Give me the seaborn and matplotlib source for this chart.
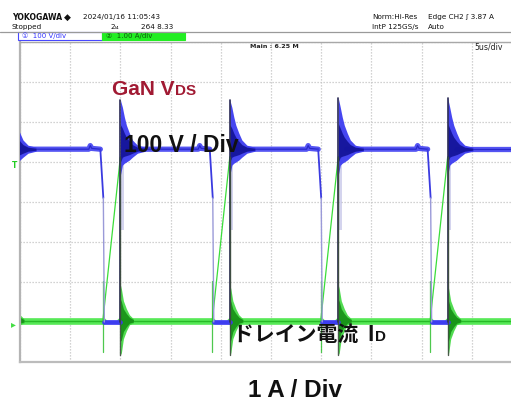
import numpy as np
import pandas as pd
import matplotlib
matplotlib.use("Agg")
import matplotlib.pyplot as plt
from matplotlib.lines import Line2D
from matplotlib.patches import Rectangle
import seaborn as sns

# ---------------- acquisition / scale ----------------
US_PER_DIV = 5.0
V_PER_DIV = 100.0      # CH1: drain-source voltage
A_PER_DIV = 1.0        # CH2: drain current
CH1_ZERO = 1.0         # 0 V position (divisions above bottom line)
CH2_ZERO = 1.03        # 0 A position

# switching events (µs from left edge of screen)
fall_us = [-2.9, 8.0, 18.9, 29.7, 40.6]    # turn-on: V_DS falls
rise_us = [-0.9, 10.0, 20.9, 31.7, 42.6]   # turn-off: V_DS rises
end_us = 50.0

# V_DS levels (V)
vds_high = 432.0
vds_low = 0.0
vds_peak = [555, 555, 555, 560, 560]

# falling edge of V_DS (time after edge start, voltage)
fall_dt = [0.0, 0.3, 0.4]
fall_v = [432, 310, 0]

# small step on the plateau just before turn-on
bump_dt = [-1.15, -1.0, -0.85]
bump_v = [432, 441, 434]

# turn-off ringing envelope of V_DS
vring_dt = [0.0, 0.2, 0.4, 0.6, 0.9, 1.2, 1.7, 2.5]
vring_hi = [555, 537, 512, 492, 472, 455, 442, 437]
vring_lo = [367, 392, 397, 400, 405, 412, 422, 427]

# drain current (A)
id_base = 0.0
id_start_dt = 0.25
id_peak = [4.1, 4.1, 4.1, 4.1, 4.1]
id_spike = [-0.78, 1.0]
id_drop_min = -0.85

# turn-off ringing envelope of I_D
iring_dt = [0.0, 0.1, 0.3, 0.6, 0.9, 1.3]
iring_hi = [0.9, 0.8, 0.5, 0.3, 0.15, 0.05]
iring_lo = [-0.85, -0.8, -0.45, -0.25, -0.1, -0.05]


def vdiv(v):
    return np.asarray(v, dtype=float) / V_PER_DIV + CH1_ZERO


def idiv(a):
    return np.asarray(a, dtype=float) / A_PER_DIV + CH2_ZERO


# ---------------- figure ----------------
sns.set_theme(style="white")
plt.rcParams["font.family"] = ["DejaVu Sans", "Noto Sans CJK JP"]

W, H = 511, 403
fig = plt.figure(figsize=(W / 100, H / 100), dpi=100)
fig.patch.set_facecolor("white")


def fx(x):
    return x / W


def fy(y):
    return 1 - y / H


ax = fig.add_axes([fx(20), fy(362), 502 / W, 320 / H])
ax.set_xlim(0, 10 * US_PER_DIV)
ax.set_ylim(0, 8)
ax.set_xticks(np.arange(0, 10 * US_PER_DIV + 0.1, US_PER_DIV))
ax.set_yticks(np.arange(0, 9))
ax.grid(True, color="#c4c4c4", lw=0.9, ls=(0, (1, 1.4)))
ax.tick_params(length=0, labelbottom=False, labelleft=False)
ax.set_xlabel("")
ax.set_ylabel("")
for side, col, lw in [("left", "#b4b4b4", 1.6), ("bottom", "#bcbcbc", 1.6),
                      ("top", "#a8a8a8", 1.0), ("right", "#a8a8a8", 1.0)]:
    ax.spines[side].set_color(col)
    ax.spines[side].set_linewidth(lw)


def draw(rows, **kw):
    df = pd.DataFrame(rows, columns=["seg", "t", "y"])
    sns.lineplot(data=df, x="t", y="y", units="seg", estimator=None,
                 sort=False, ax=ax, legend=False, **kw)


n = len(fall_us)

# ---------- CH2: drain current ----------
base, ramp, spike, drop = [], [], [], []
for i in range(n):
    t_on = fall_us[i] + id_start_dt
    prev = rise_us[i - 1] if i > 0 else -6.0
    base += [(i, prev, idiv(id_base)), (i, t_on, idiv(id_base))]
    ramp += [(i, t_on, idiv(id_base)), (i, rise_us[i], idiv(id_peak[i]))]
    spike += [(i, t_on, idiv(id_spike[0])), (i, t_on, idiv(id_spike[1]))]
    drop += [(i, rise_us[i], idiv(id_peak[i])), (i, rise_us[i], idiv(id_drop_min))]
base += [(n, rise_us[-1], idiv(id_base)), (n, end_us + 2, idiv(id_base))]

draw(base, color="#4ee84e", lw=4.8, alpha=0.95, zorder=2)
draw(base, color="#22b522", lw=1.0, alpha=0.9, zorder=2.1)
draw(ramp, color="#3add3a", lw=0.9, zorder=2.2)
draw(spike, color="#2fbf2f", lw=0.9, alpha=0.85, zorder=2.2)

for i in range(n):
    t = rise_us[i] + np.asarray(iring_dt)
    ax.fill_between(t, idiv(iring_lo), idiv(iring_hi), color="#3ed83e",
                    lw=0, alpha=0.9, zorder=2.3)
    ax.fill_between(t, idiv(np.asarray(iring_lo) * 0.6),
                    idiv(np.asarray(iring_hi) * 0.6), color="#138a13",
                    lw=0, alpha=0.85, zorder=2.4)

# ---------- CH1: drain-source voltage ----------
plateau, low, edge_slow, edge_fast, rise = [], [], [], [], []
for i in range(n):
    start = rise_us[i - 1] + 0.8 if i > 0 else -6.0
    pts = [(start, vds_high)]
    pts += [(fall_us[i] + d, v) for d, v in zip(bump_dt, bump_v)]
    pts += [(fall_us[i], vds_high)]
    plateau += [(i, t, vdiv(v)) for t, v in pts]
    edge_slow += [(i, fall_us[i] + fall_dt[0], vdiv(fall_v[0])),
                  (i, fall_us[i] + fall_dt[1], vdiv(fall_v[1]))]
    edge_fast += [(i, fall_us[i] + fall_dt[1], vdiv(fall_v[1])),
                  (i, fall_us[i] + fall_dt[2], vdiv(fall_v[2]))]
    low += [(i, fall_us[i] + fall_dt[2], vdiv(vds_low)),
            (i, rise_us[i], vdiv(vds_low))]
    rise += [(i, rise_us[i], vdiv(vds_low)), (i, rise_us[i], vdiv(vds_peak[i]))]
plateau += [(n, rise_us[-1] + 0.8, vdiv(vds_high)), (n, end_us + 2, vdiv(vds_high))]

draw(plateau, color="#4b4bf2", lw=3.8, alpha=0.95, zorder=3)
draw(plateau, color="#2424c8", lw=0.9, alpha=0.9, zorder=3.1)
draw(low, color="#3d3df0", lw=3.4, zorder=3)
draw(edge_slow, color="#3a3ae0", lw=1.3, zorder=3.2)
draw(edge_fast, color="#9a9ad8", lw=1.0, zorder=3.2)

for i in range(n):
    t = rise_us[i] + np.asarray(vring_dt)
    hi = np.array(vring_hi, dtype=float)
    hi[0] = vds_peak[i]
    ax.fill_between(t, vdiv(vring_lo), vdiv(hi), color="#3c3cf0",
                    lw=0, alpha=0.95, zorder=3.3)
    mid_lo = (np.array(vring_lo) + vds_high) / 2
    mid_hi = (hi + vds_high) / 2
    ax.fill_between(t, vdiv(mid_lo), vdiv(mid_hi), color="#0c0c8a",
                    lw=0, alpha=0.8, zorder=3.4)
    # persistence haze beside the turn-off edge
    ax.fill_between([rise_us[i] + 0.05, rise_us[i] + 0.35], vdiv(230), vdiv(420),
                    color="#b8b8e4", lw=0, alpha=0.6, zorder=3.05)

draw(rise, color="#2a2a55", lw=1.2, zorder=3.5)
draw(drop, color="#3d4d3d", lw=1.0, alpha=0.9, zorder=3.5)

# level markers at the left edge
fig.text(fx(12), fy(165), "T", color="#22cc22", fontsize=5.5, weight="bold",
         va="center", ha="left")
fig.text(fx(11), fy(324), "\u25B8", color="#44dd44", fontsize=7,
         va="center", ha="left")

# ---------------- header ----------------
hdr = dict(fontsize=5.2, color="#111111", va="center", ha="left")
fig.text(fx(12), fy(17), "YOKOGAWA", fontsize=5.6, weight="bold",
         color="#111111", va="center", ha="left")
fig.text(fx(64), fy(17), "\u25C6", fontsize=6.5, color="#111111",
         va="center", ha="left")
fig.text(fx(83), fy(17), "2024/01/16 11:05:43", **hdr)
fig.text(fx(12), fy(27), "Stopped", **hdr)
fig.text(fx(110), fy(27), "2\u2097\u2084", **hdr)
fig.text(fx(141), fy(27), "264 8.33", **hdr)
fig.text(fx(372), fy(17), "Norm:Hi-Res", **hdr)
fig.text(fx(372), fy(27), "IntP 125GS/s", **hdr)
fig.text(fx(428), fy(17), "Edge CH2 \u0283 3.87 A", **hdr)
fig.text(fx(428), fy(27), "Auto", **hdr)
fig.text(fx(250), fy(46.5), "Main : 6.25 M", fontsize=4.6, weight="bold",
         color="#222222", va="center", ha="left")
fig.text(fx(474), fy(47), "5us/div", fontsize=5.6, color="#222222",
         va="center", ha="left")

fig.add_artist(Line2D([0, 1], [fy(31.5), fy(31.5)], color="#9a9a9a", lw=0.9,
                      transform=fig.transFigure))
fig.add_artist(Rectangle((fx(18), fy(40)), 84 / W, 8 / H, transform=fig.transFigure,
                         facecolor="white", edgecolor="#4848ff", lw=0.8))
fig.add_artist(Rectangle((fx(102), fy(40)), 83 / W, 8 / H, transform=fig.transFigure,
                         facecolor="#22ee22", edgecolor="#22ee22", lw=0.8))
fig.text(fx(22), fy(36), "\u2460  100 V/div", fontsize=5.0, color="#3232ff",
         va="center", ha="left")
fig.text(fx(106), fy(36), "\u2461  1.00 A/div", fontsize=5.0, color="#0a5a0a",
         va="center", ha="left")

# ---------------- annotations ----------------
ann = dict(family=["Liberation Sans", "Noto Sans CJK JP"], weight="bold",
           va="baseline", ha="left")
renderer = fig.canvas.get_renderer()

gan = fig.text(fx(112), fy(95), "GaN V", fontsize=15, color="#a11a33", **ann)
bb = gan.get_window_extent(renderer)
fig.text((bb.x1 + 0.5) / W, fy(95), "DS", fontsize=11, color="#a11a33", **ann)

fig.text(fx(124), fy(152), "100 V / Div", fontsize=16.5, color="#111111", **ann)

jp = fig.text(fx(233), fy(341), "ドレイン電流  I", fontsize=15,
              color="#111111", family=["Noto Sans CJK JP", "Liberation Sans"],
              weight="bold", va="baseline", ha="left")
bb = jp.get_window_extent(renderer)
fig.text((bb.x1 + 0.5) / W, fy(341), "D", fontsize=11, color="#111111", **ann)

fig.text(fx(248), fy(397), "1 A / Div", fontsize=17.5, color="#111111", **ann)

fig.savefig("out.png", dpi=100, facecolor="white")
